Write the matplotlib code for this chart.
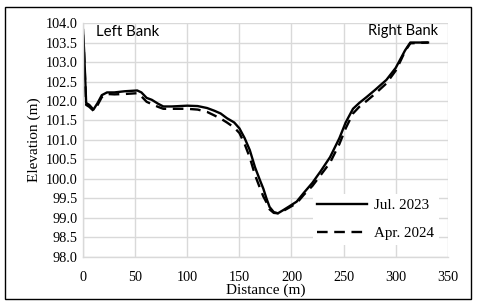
import matplotlib.pyplot as plt
from matplotlib.patches import Rectangle

# cross-section survey, distance (m) vs elevation (m)
dist = [0, 1, 3, 6, 10, 14, 18, 23, 30, 40, 52, 56, 61, 66, 72, 77, 85, 100, 110,
        119, 126, 132, 138, 145, 150, 155, 160, 165, 170, 173, 176, 179, 183, 187,
        192, 198, 205, 212, 220, 228, 237, 246, 252, 259, 265, 272, 280, 291, 300,
        305, 309, 314, 331]
elev_jul2023 = [103.82, 103.3, 101.95, 101.9, 101.78, 101.95, 102.15, 102.22, 102.22,
                102.25, 102.27, 102.22, 102.08, 102.03, 101.93, 101.86, 101.86, 101.88,
                101.87, 101.82, 101.75, 101.68, 101.56, 101.45, 101.3, 101.05, 100.74,
                100.3, 99.95, 99.75, 99.5, 99.28, 99.15, 99.12, 99.2, 99.3, 99.42, 99.65,
                99.9, 100.2, 100.56, 101.05, 101.45, 101.8, 101.95, 102.1, 102.28, 102.54,
                102.85, 103.1, 103.3, 103.5, 103.5]
elev_apr2024 = [103.7, 103.2, 101.9, 101.85, 101.75, 101.9, 102.1, 102.18, 102.17,
                102.18, 102.2, 102.12, 101.98, 101.92, 101.85, 101.8, 101.8, 101.8,
                101.78, 101.72, 101.63, 101.55, 101.45, 101.32, 101.18, 100.9, 100.55,
                100.1, 99.75, 99.55, 99.4, 99.22, 99.13, 99.12, 99.18, 99.27, 99.38, 99.6,
                99.82, 100.1, 100.42, 100.9, 101.3, 101.68, 101.85, 102.0, 102.18, 102.45,
                102.78, 103.05, 103.28, 103.48, 103.5]

xticks = list(range(0, 351, 50))
yticks = [98 + 0.5 * i for i in range(13)]

serif = 'Liberation Serif'
sans = 'Lato'

fig = plt.figure(figsize=(4.8, 3.07), dpi=100)
ax = fig.add_axes([0.173, 0.163, 0.76, 0.762])

ax.plot(dist, elev_jul2023, color='black', lw=1.7, label='Jul. 2023')
ax.plot(dist, elev_apr2024, color='black', lw=1.7, ls=(0, (4.5, 2.8)), label='Apr. 2024')

ax.set_xlim(0, 350)
ax.set_ylim(98, 104)
ax.set_xticks(xticks)
ax.set_yticks(yticks)
ax.set_yticklabels([f'{v:.1f}' for v in yticks], family=serif, fontsize=10.3)
ax.set_xticklabels([str(v) for v in xticks], family=serif, fontsize=10.3)
ax.tick_params(length=0, pad=10)
ax.tick_params(axis='y', pad=4)
ax.grid(True, color='#d9d9d9', lw=1)
ax.set_axisbelow(True)
for s in ['top', 'right']:
    ax.spines[s].set_visible(False)
for s in ['left', 'bottom']:
    ax.spines[s].set_color('#d9d9d9')
    ax.spines[s].set_linewidth(1)

ax.set_xlabel('Distance (m)', family=serif, fontsize=11, labelpad=0)
ax.set_ylabel('Elevation (m)', family=serif, fontsize=11, labelpad=3)

ax.text(12.5, 103.78, 'Left Bank', family=sans, fontsize=10.8, va='center')
ax.text(273, 103.8, 'Right Bank', family=sans, fontsize=10.5, va='center')

leg = ax.legend(loc='lower right', bbox_to_anchor=(0.995, 0.02), frameon=True,
                fancybox=False, edgecolor='none', facecolor='white', framealpha=1,
                prop={'family': serif, 'size': 10.8}, handlelength=3.3,
                handletextpad=0.5, labelspacing=1.0, borderpad=0.3)

fig.add_artist(Rectangle((5 / 480, 8 / 307), 466 / 480, 292 / 307,
                         transform=fig.transFigure, fill=False, ec='black', lw=1))

fig.savefig('out.png', dpi=100)
